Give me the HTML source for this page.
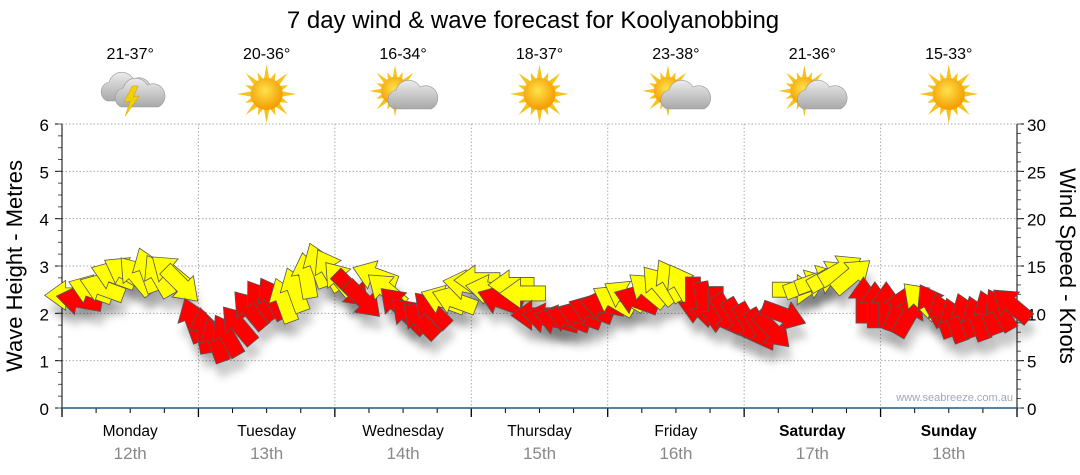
<!DOCTYPE html>
<html><head><meta charset="utf-8">
<style>
body{margin:0;background:#fff;}
svg{display:block;font-family:"Liberation Sans","DejaVu Sans",sans-serif;}
</style></head>
<body>
<svg id="chart" width="1080" height="475" viewBox="0 0 1080 475" xmlns="http://www.w3.org/2000/svg">
<defs>
<filter id="sh" x="-50%" y="-50%" width="200%" height="200%"><feGaussianBlur stdDeviation="4"/></filter>
<radialGradient id="sun" cx="45%" cy="40%" r="60%"><stop offset="0" stop-color="#ffe24a"/><stop offset="1" stop-color="#f39a00"/></radialGradient>
<linearGradient id="cloud" x1="0" y1="0" x2="0" y2="1"><stop offset="0" stop-color="#ececec"/><stop offset="1" stop-color="#a8a8a8"/></linearGradient>
</defs>
<text x="533" y="28" font-size="24" text-anchor="middle">7 day wind &amp; wave forecast for Koolyanobbing</text>
<g id="grid"></g>
<g id="axes"></g>
<g id="shadows"></g>
<g id="arrows"></g>
<g id="icons"></g>
<text transform="translate(22,266) rotate(-90)" font-size="22" text-anchor="middle">Wave Height - Metres</text>
<text transform="translate(1060,266) rotate(90)" font-size="22" text-anchor="middle">Wind Speed - Knots</text>
<text x="1013" y="401" font-size="11" fill="#a0a8b8" text-anchor="end">www.seabreeze.com.au</text>
</svg>
<script>
const days = ["Monday","Tuesday","Wednesday","Thursday","Friday","Saturday","Sunday"];
const dates = ["12th","13th","14th","15th","16th","17th","18th"];
const temps = ["21-37°","20-36°","16-34°","18-37°","23-38°","21-36°","15-33°"];
const icons = ["storm","sun","partly","sun","partly","partly","sun"];
const waveTicks = [0,1,2,3,4,5,6];
const windTicks = [0,5,10,15,20,25,30];
// wind speed in knots, every 2 hours from Monday 00:00
const windSpeed = [11.9,11.4,12.5,12.7,14.0,14.4,14.0,14.6,14.0,14.4,13.0,9.3,
 8.2,7.2,7.7,8.8,10.4,11.4,11.6,11.4,12.5,14.0,15.1,14.6,
 13.5,12.5,11.4,14.0,12.5,10.9,9.8,9.3,10.4,11.4,11.4,13.0,
 13.5,12.5,11.4,13.0,12.1,9.8,9.5,9.3,9.5,9.8,10.4,10.9,
 11.4,11.9,11.4,12.5,13.0,13.5,13.0,11.4,10.9,10.4,9.8,9.3,
 8.8,8.2,8.2,9.8,12.5,13.0,13.5,14.0,14.6,14.0,11.4,10.9,
 10.9,10.4,9.8,11.4,10.9,9.8,9.3,9.8,9.5,10.1,10.4,10.9];
// arrow pointing direction (deg, clockwise from right on screen)
const windDir = [180,190,200,200,200,210,230,250,240,220,45,250,
 260,250,240,230,230,235,240,250,250,260,250,240,
 230,45,45,200,220,225,225,225,225,200,200,190,
 180,190,200,180,180,180,190,195,200,200,200,190,
 210,210,200,220,230,240,240,90,80,90,60,60,
 60,60,45,20,0,340,340,330,330,320,270,270,
 270,290,300,225,240,250,250,250,250,250,240,220];
// 1 = red, 0 = yellow
const windRed = [0,1,0,0,0,0,0,0,0,0,0,1,
 1,1,1,1,1,1,1,0,0,0,0,0,
 0,1,1,0,0,1,1,1,1,0,0,0,
 0,0,1,0,0,1,1,1,1,1,1,1,
 0,0,1,0,0,0,0,1,1,1,1,1,
 1,1,1,1,0,0,0,0,0,0,1,1,
 1,1,1,0,1,1,1,1,1,1,1,1];

const NS="http://www.w3.org/2000/svg";
const X0=62,X1=1017,YT=124,YB=408;
const xT=h=>X0+h/168*(X1-X0);
const yWave=v=>YB-v/6*(YB-YT);
const yWind=v=>YB-v/30*(YB-YT);
function mk(tag,attrs,parent,text){const e=document.createElementNS(NS,tag);for(const k in attrs)e.setAttribute(k,attrs[k]);if(text!==undefined)e.textContent=text;parent.appendChild(e);return e;}
const grid=document.getElementById('grid'),axes=document.getElementById('axes');
waveTicks.forEach(v=>{
  if(v>0){const g=mk('line',{x1:X0,x2:X1,y1:yWave(v),y2:yWave(v),stroke:'#aaa','stroke-dasharray':'1.5,2'},grid);
  
  }
  const t=mk('text',{x:49,y:yWave(v)+7,'font-size':17,'text-anchor':'end'},axes,String(v));
  
  
  mk('line',{x1:X0-7,x2:X0,y1:yWave(v),y2:yWave(v),stroke:'#000'},axes);
});
for(let m=0;m<=24;m++){mk('line',{x1:X0-4,x2:X0,y1:yWave(m/4),y2:yWave(m/4),stroke:'#555'},axes);}
windTicks.forEach(v=>{
  const t=mk('text',{x:1027,y:yWind(v)+7,'font-size':17},axes,String(v));
  
  
  mk('line',{x1:X1,x2:X1+7,y1:yWind(v),y2:yWind(v),stroke:'#000'},axes);
});
for(let m=0;m<=30;m++){mk('line',{x1:X1,x2:X1+4,y1:yWind(m),y2:yWind(m),stroke:'#555'},axes);}
mk('line',{x1:X0,x2:X0,y1:YT,y2:YB,stroke:'#000'},axes);
mk('line',{x1:X1,x2:X1,y1:YT,y2:YB,stroke:'#000'},axes);
for(let d=0;d<=7;d++){
  const x=xT(d*24);
  if(d>0&&d<7){const g=mk('line',{x1:x,x2:x,y1:YT,y2:YB,stroke:'#aaa','stroke-dasharray':'1.5,2'},grid);
  
  }
  mk('line',{x1:x,x2:x,y1:YB,y2:YB+9,stroke:'#000','stroke-width':1.3},axes);
  if(d<7)for(let q=1;q<4;q++)mk('line',{x1:xT(d*24+q*6),x2:xT(d*24+q*6),y1:YB,y2:YB+5,stroke:'#000'},axes);
}
const xl=mk('line',{x1:X0,x2:X1,y1:YB,y2:YB,stroke:'#1c5a86','stroke-width':1.5},axes);


days.forEach((d,i)=>{
  const cx=xT(i*24+12);
  const t=mk('text',{x:cx,y:436,'font-size':15.5,'text-anchor':'middle','font-weight':i>=5?'bold':'normal'},axes,d);
  
  
  const t2=mk('text',{x:cx,y:459,'font-size':17,'text-anchor':'middle',fill:'#888'},axes,dates[i]);
  
  
  const t3=mk('text',{x:cx,y:59,'font-size':16,'text-anchor':'middle'},document.getElementById('chart'),temps[i]);
  
  
});
const ig=document.getElementById('icons');
function sunIcon(g,cx,cy,r){
  for(let k=0;k<16;k++){const a=k*Math.PI/8,L=(k%2?r*1.45:r*1.85);
    const p=[[cx+Math.cos(a)*L,cy+Math.sin(a)*L],[cx+Math.cos(a+0.2)*r*0.9,cy+Math.sin(a+0.2)*r*0.9],[cx+Math.cos(a-0.2)*r*0.9,cy+Math.sin(a-0.2)*r*0.9]];
    mk('polygon',{points:p.map(q=>q.join(',')).join(' '),fill:'#f7c21a'},g);}
  mk('circle',{cx,cy,r,fill:'url(#sun)'},g);
}
function cloudIcon(g,cx,cy,s){
  mk('path',{d:`M${cx-17*s},${cy+11*s} a10,10 0 0 1 2,-19 a13,13 0 0 1 24,-3 a10,10 0 0 1 11,22 z`,fill:'url(#cloud)',stroke:'#999','stroke-width':0.6},g);
}
icons.forEach((k,i)=>{
  const cx=xT(i*24+12),cy=94;
  const g=mk('g',{},ig);
  
  
  if(k==='sun')sunIcon(g,cx,cy,16);
  else if(k==='partly'){sunIcon(g,cx-8,cy-3,14);cloudIcon(g,cx+8,cy+4,1);}
  else{cloudIcon(g,cx-6,cy-4,1);cloudIcon(g,cx+8,cy+2,1);
    mk('polygon',{points:`${cx+2},${cy-8} ${cx-6},${cy+8} ${cx},${cy+7} ${cx-5},${cy+22} ${cx+9},${cy+2} ${cx+3},${cy+3} ${cx+8},${cy-8}`,fill:'#f5d000',stroke:'#c9a000','stroke-width':0.5},g);}
});
const ag=document.getElementById('arrows'),sg=document.getElementById('shadows');
const shape="M-23,-7.5 L2,-7.5 L2,-15 L23,0 L2,15 L2,7.5 L-23,7.5 Z";
windSpeed.forEach((v,i)=>{
  const x=xT(i*2+1),y=yWind(v),r=windDir[i];
  mk('path',{d:shape,fill:'#000','fill-opacity':0.2,filter:'url(#sh)',transform:`translate(${x+3},${y+14}) rotate(${r})`},sg);
  const a=mk('path',{d:shape,fill:windRed[i]?'#ff0000':'#ffff00',stroke:'#555','stroke-width':0.8,transform:`translate(${x},${y}) rotate(${r})`},ag);
  
  
});
</script>
</body></html>
